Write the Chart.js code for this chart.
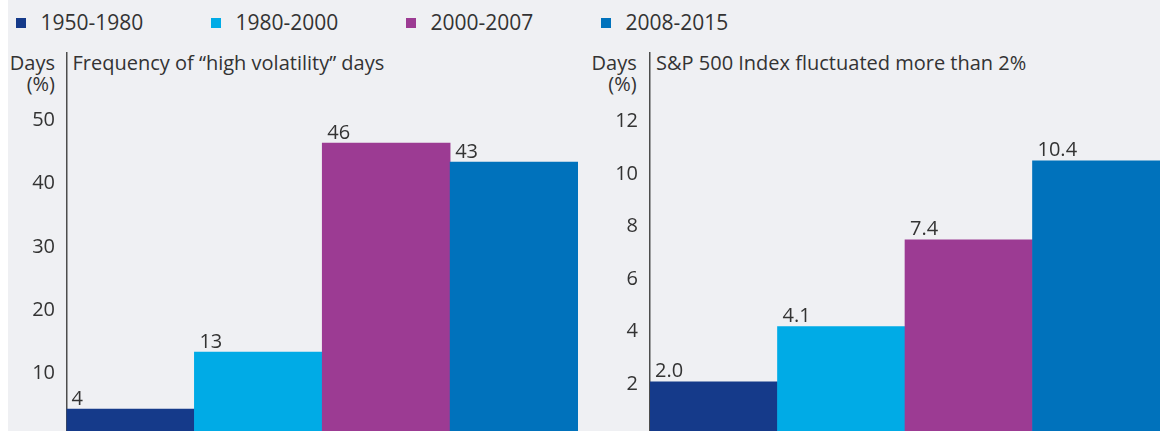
<!DOCTYPE html>
<html>
<head>
<meta charset="utf-8">
<script src="https://cdn.jsdelivr.net/npm/chart.js@4/dist/chart.umd.min.js"></script>
<style>
  body { margin: 0; background: #fff; overflow: hidden; width: 1170px; height: 431px; position: relative; font-family: 'Open Sans', sans-serif; color: #333; }
  #bg { position: absolute; left: 8px; top: 0; width: 1152px; height: 431px; background: #eff0f3; }
  .legend-box { position: absolute; top: 18px; width: 10px; height: 10px; }
  .legend-text { position: absolute; top: 10.4px; font-size: 21px; line-height: 24px; white-space: nowrap; }
  .ylab { position: absolute; top: 51.7px; font-size: 20px; line-height: 21px; text-align: right; }
  .ptitle { position: absolute; top: 51.7px; font-size: 20px; line-height: 21px; white-space: nowrap; }
  canvas { position: absolute; top: 0; }
</style>
</head>
<body>
<div id="bg"></div>
<div id="legend"></div>
<div class="ylab" style="left:0; width:55px;">Days<br>(%)</div>
<div class="ptitle" style="left:72.5px;">Frequency of “high volatility” days</div>
<canvas id="chart1" width="570" height="435" style="left:8px;"></canvas>
<div class="ylab" style="left:580px; width:56.7px;">Days<br>(%)</div>
<div class="ptitle" style="left:656px;">S&amp;P 500 Index fluctuated more than 2%</div>
<canvas id="chart2" width="572" height="435" style="left:588px;"></canvas>
<script>
const periods = ['1950-1980', '1980-2000', '2000-2007', '2008-2015'];
const periodColors = ['#153a8a', '#00abe6', '#9c3b93', '#0072bc'];

const highVolDays = [4, 13, 46, 43];
const highVolTicks = [10, 20, 30, 40, 50];

const spxMoveDays = [2.0, 4.1, 7.4, 10.4];
const spxMoveTicks = [2, 4, 6, 8, 10, 12];

Chart.defaults.font.family = "'Open Sans', sans-serif";
Chart.defaults.font.size = 20;
Chart.defaults.color = '#333';

const legend = document.getElementById('legend');
periods.forEach((p, i) => {
    const left = 16 + i * 195;
    const box = document.createElement('div');
    box.className = 'legend-box';
    box.style.left = left + 'px';
    box.style.background = periodColors[i];
    const txt = document.createElement('div');
    txt.className = 'legend-text';
    txt.style.left = (left + 24.5) + 'px';
    txt.innerText = p;
    legend.appendChild(box);
    legend.appendChild(txt);
});

const barLabels = {
    id: 'barLabels',
    afterDatasetsDraw(chart, args, opts) {
        const ctx = chart.ctx;
        const ds = chart.data.datasets[0];
        ctx.save();
        ctx.font = "20px 'Open Sans', sans-serif";
        ctx.fillStyle = '#333';
        ctx.textAlign = 'left';
        ctx.textBaseline = 'alphabetic';
        chart.getDatasetMeta(0).data.forEach((bar, i) => {
            ctx.fillText(ds.data[i].toFixed(opts.decimals), bar.x - bar.width / 2 + 5, bar.y - 4.5);
        });
        ctx.restore();
    }
};

function makeChart(id, values, ticks, max, axisWidth, pad, decimals) {
    return new Chart(document.getElementById(id), {
        type: 'bar',
        data: {
            labels: periods,
            datasets: [{
                data: values,
                backgroundColor: periodColors,
                borderWidth: 0,
                barPercentage: 1,
                categoryPercentage: 1
            }]
        },
        options: {
            responsive: false,
            animation: false,
            layout: { padding: { top: 53, bottom: 0.5, left: 0, right: 0 } },
            plugins: { legend: { display: false }, tooltip: { enabled: false }, barLabels: { decimals } },
            scales: {
                x: { display: false },
                y: {
                    min: 0,
                    max: max,
                    grid: { display: false, drawTicks: false },
                    border: { display: true, color: '#4d4d4d', width: 1.5 },
                    ticks: { padding: pad, labelOffset: 2.5, color: '#333', font: { size: 20 } },
                    afterBuildTicks: s => { s.ticks = ticks.map(v => ({ value: v })); },
                    afterFit: s => { s.width = axisWidth; s.paddingTop = 0; s.paddingBottom = 0; }
                }
            }
        },
        plugins: [barLabels]
    });
}

makeChart('chart1', highVolDays, highVolTicks, 60.24, 58.5, 11.5, 0);
makeChart('chart2', spxMoveDays, spxMoveTicks, 14.5, 62, 12, 1);
</script>
</body>
</html>
